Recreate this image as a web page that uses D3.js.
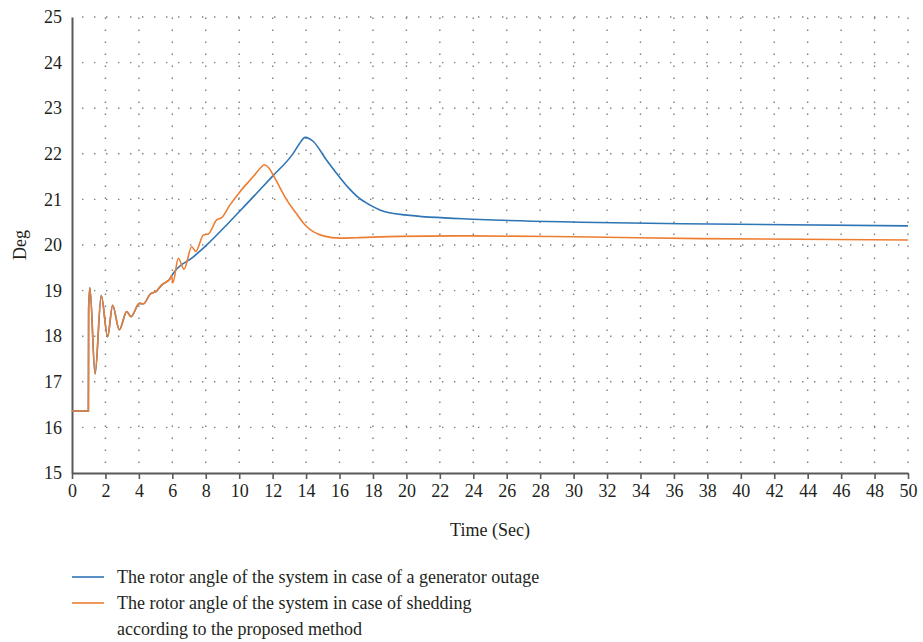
<!DOCTYPE html>
<html>
<head>
<meta charset="utf-8">
<script src="https://cdn.jsdelivr.net/npm/d3@7"></script>
<style>
  body { margin: 0; background: #fff; }
  text { font-family: 'Liberation Serif', 'DejaVu Serif', serif; fill: #231f20; }
</style>
</head>
<body>
<script>
(function () {
  'use strict'
  // time (sec) / rotor angle (deg)
  const outageTime = [0, 0.98, 0.995, 1.07, 1.38, 1.75, 2.13, 2.43, 2.83, 3.27, 3.53, 4.03, 4.27, 4.67, 5.06, 5.36, 5.86,
    6.06, 7.26, 8, 9.25, 10, 11.24, 12, 13.23, 13.6, 13.94, 14.2, 14.43, 15.23, 15.83, 16.5, 17.2, 17.8, 18.42, 19.9, 24.4, 30.4, 38.2, 50]
  const outageAngle = [16.36, 16.36, 18.6, 19.06, 17.17, 18.89, 17.99, 18.68, 18.14, 18.54, 18.43, 18.72, 18.71, 18.92, 18.99, 19.12, 19.26,
    19.38, 19.74, 19.98, 20.44, 20.73, 21.21, 21.51, 22.01, 22.22, 22.36, 22.33, 22.27, 21.86, 21.57, 21.27, 21.02, 20.88, 20.77, 20.66, 20.56, 20.5, 20.46, 20.42]
  const sheddingTime = [0, 0.98, 0.995, 1.07, 1.38, 1.75, 2.13, 2.43, 2.83, 3.27, 3.53, 4.03, 4.27, 4.67, 5.06, 5.36, 5.86, 5.95,
    6.03, 6.36, 6.7, 7.16, 7.4, 7.86, 8.15, 8.65, 8.95, 9.45, 10.05, 10.84, 11.3, 11.5, 11.75, 12.14, 12.84, 13.4, 13.94, 15.03, 16.03, 17, 19.6, 24, 30, 37.6, 50]
  const sheddingAngle = [16.36, 16.36, 18.6, 19.06, 17.17, 18.89, 17.99, 18.68, 18.14, 18.54, 18.43, 18.72, 18.71, 18.92, 18.99, 19.12, 19.26, 19.33,
    19.17, 19.71, 19.47, 19.96, 19.86, 20.22, 20.24, 20.55, 20.6, 20.88, 21.17, 21.5, 21.7, 21.76, 21.7, 21.46, 20.99, 20.7, 20.44, 20.2, 20.15, 20.16, 20.19, 20.2, 20.18, 20.14, 20.11]
  const xTicks = d3.range(0, 51, 2)
  const yTicks = d3.range(15, 26, 1)
  const seriesNames = ['The rotor angle of the system in case of a generator outage',
    'The rotor angle of the system in case of shedding', 'according to the proposed method']

  const margin = {top: 17, left: 72}
  const width = 836
  const height = 456
  const blue = '#2e75b6'
  const orange = '#ed7d31'
  const serif = "'Liberation Serif', 'DejaVu Serif', serif"

  const svg = d3.select('body').append('svg')
    .attr('width', 923)
    .attr('height', 642)
  const g = svg.append('g')
    .attr('transform', `translate(${margin.left}, ${margin.top})`)

  const x = d3.scaleLinear().domain([0, 50]).range([0, width])
  const y = d3.scaleLinear().domain([15, 25]).range([height, 0])

  // dotted grid
  g.selectAll('.hgrid')
    .data(yTicks.filter(d => d > 15))
    .enter().append('line')
    .attr('class', 'hgrid')
    .attr('x1', 0).attr('x2', width)
    .attr('y1', d => y(d)).attr('y2', d => y(d))
    .style('stroke', '#7f7f7f')
    .style('stroke-width', 1.4)
    .style('stroke-dasharray', '1.4,10.6')
    .style('stroke-dashoffset', -10)
  g.selectAll('.vgrid')
    .data(xTicks.filter(d => d > 0))
    .enter().append('line')
    .attr('class', 'vgrid')
    .attr('x1', d => x(d)).attr('x2', d => x(d))
    .attr('y1', height).attr('y2', 0)
    .style('stroke', '#7f7f7f')
    .style('stroke-width', 1.4)
    .style('stroke-dasharray', '1.4,10.6')
    .style('stroke-dashoffset', -10)

  // axes
  const xAxis = g.append('g')
    .attr('transform', `translate(0, ${height})`)
    .call(d3.axisBottom(x).tickValues(xTicks).tickSize(6).tickPadding(5).tickSizeOuter(0))
  const yAxis = g.append('g')
    .call(d3.axisLeft(y).tickValues(yTicks).tickSize(0).tickPadding(10).tickSizeOuter(0))
  ;[xAxis, yAxis].forEach(a => {
    a.attr('font-family', serif).attr('font-size', 18)
    a.select('.domain').style('stroke', '#595959').style('stroke-width', 2)
    a.selectAll('.tick line').style('stroke', '#595959').style('stroke-width', 1.6)
    a.selectAll('.tick text').attr('fill', '#231f20')
  })

  svg.append('text')
    .attr('transform', `translate(26, ${margin.top + height / 2}) rotate(-90)`)
    .attr('text-anchor', 'middle')
    .style('font-size', '18px')
    .text('Deg')
  svg.append('text')
    .attr('x', margin.left + width / 2)
    .attr('y', 536)
    .attr('text-anchor', 'middle')
    .style('font-size', '18px')
    .text('Time (Sec)')

  // lines
  const line = d3.line()
    .x(d => x(d[0]))
    .y(d => y(d[1]))
    .curve(d3.curveMonotoneX)
  g.append('path')
    .datum(d3.zip(outageTime, outageAngle))
    .attr('d', line)
    .style('fill', 'none')
    .style('stroke', blue)
    .style('stroke-width', 1.6)
  g.append('path')
    .datum(d3.zip(sheddingTime, sheddingAngle))
    .attr('d', line)
    .style('fill', 'none')
    .style('stroke', orange)
    .style('stroke-width', 1.6)

  // legend
  const legend = svg.append('g')
  ;[blue, orange].forEach((c, i) => {
    legend.append('line')
      .attr('x1', 72).attr('x2', 104)
      .attr('y1', 577 + i * 26).attr('y2', 577 + i * 26)
      .style('stroke', c)
      .style('stroke-width', 1.6)
  })
  legend.selectAll('text')
    .data(seriesNames)
    .enter().append('text')
    .attr('x', 117)
    .attr('y', (d, i) => 583 + i * 26)
    .style('font-size', '18px')
    .text(d => d)
})()
</script>
</body>
</html>
